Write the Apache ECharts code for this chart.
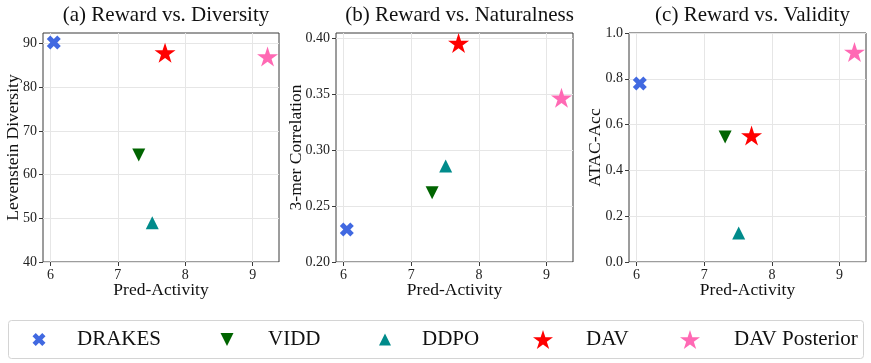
<!DOCTYPE html>
<html>
<head>
<meta charset="utf-8">
<script src="https://cdn.jsdelivr.net/npm/echarts@6/dist/echarts.min.js"></script>
<style>
  html, body { margin: 0; padding: 0; background: #fff; }
  #chart { width: 871px; height: 363px; }
</style>
</head>
<body>
<div id="chart"></div>
<script>
// data
const methods = ['DRAKES', 'VIDD', 'DDPO', 'DAV', 'DAV Posterior']
const predActivity = [6.05, 7.31, 7.51, 7.70, 9.22]
const diversity = [90.2, 64.5, 49.0, 87.9, 87.0]
const correlation = [0.229, 0.262, 0.286, 0.396, 0.347]
const atacAcc = [0.78, 0.546, 0.127, 0.552, 0.917]
const xTicks = [6, 7, 8, 9]
const yTicksA = [40, 50, 60, 70, 80, 90]
const yTicksB = [0.20, 0.25, 0.30, 0.35, 0.40]
const yTicksC = [0.0, 0.2, 0.4, 0.6, 0.8, 1.0]

const FONT = 'Liberation Serif'
const symX = 'path://M75,0 L100,25 L75,50 L100,75 L75,100 L50,75 L25,100 L0,75 L25,50 L0,25 L25,0 L50,25 Z'
const symStar = 'path://M100,0 L122.45,69.1 L195.1,69.1 L136.33,111.8 L158.78,180.9 L100,138.2 L41.22,180.9 L63.67,111.8 L4.9,69.1 L77.55,69.1 Z'
const symDown = 'path://M0,0 L100,0 L50,100 Z'
const symUp = 'path://M50,0 L100,100 L0,100 Z'

const colors = ['#4169E1', '#006400', '#008B8B', '#FF0000', '#FF69B4']
const symbols = [symX, symDown, symUp, symStar, symStar]
const sizes = [14, 13, 13, 21, 21]

const panels = [
  { title: '(a) Reward vs. Diversity', yName: 'Levenstein Diversity', values: diversity,
    ticks: yTicksA, min: 40, max: 92.4, interval: 10, digits: 0, left: 43, width: 236, nameGap: 21 },
  { title: '(b) Reward vs. Naturalness', yName: '3-mer Correlation', values: correlation,
    ticks: yTicksB, min: 0.2, max: 0.405, interval: 0.05, digits: 2, left: 336, width: 237, nameGap: 31 },
  { title: '(c) Reward vs. Validity', yName: 'ATAC-Acc', values: atacAcc,
    ticks: yTicksC, min: 0, max: 1, interval: 0.2, digits: 1, left: 629, width: 237, nameGap: 25 }
]

const gridTop = 33
const gridHeight = 229
const labelStyle = { fontFamily: FONT, fontSize: 14, color: '#222' }
const nameStyle = { fontFamily: FONT, fontSize: 17.5, color: '#111' }

const option = {
  animation: false,
  backgroundColor: '#fff',
  title: panels.map(p => ({
    text: p.title,
    left: p.left + p.width / 2,
    top: 0,
    textAlign: 'center',
    textStyle: { fontFamily: FONT, fontSize: 21, fontWeight: 'normal', color: '#111' }
  })),
  grid: panels.map(p => ({
    left: p.left, top: gridTop, width: p.width, height: gridHeight,
    show: true, borderColor: '#3a3a3a', borderWidth: 1, backgroundColor: 'transparent'
  })),
  xAxis: panels.map((p, i) => ({
    type: 'value', gridIndex: i,
    min: 5.89, max: 9.39, splitNumber: 4,
    name: 'Pred-Activity', nameLocation: 'middle', nameGap: 19, nameMoveOverlap: false,
    nameTextStyle: nameStyle,
    axisLine: { show: false },
    axisTick: { show: true, length: 4, customValues: xTicks, lineStyle: { color: '#3a3a3a' } },
    axisLabel: { ...labelStyle, margin: 6, customValues: xTicks, formatter: v => String(v) },
    splitLine: { show: true, lineStyle: { color: '#e6e6e6', width: 1 } }
  })),
  yAxis: panels.map((p, i) => ({
    type: 'value', gridIndex: i,
    min: p.min, max: p.max, interval: p.interval,
    name: p.yName, nameLocation: 'middle', nameGap: p.nameGap, nameMoveOverlap: false,
    nameTextStyle: nameStyle,
    axisLine: { show: false },
    axisTick: { show: true, length: 4, customValues: p.ticks, lineStyle: { color: '#3a3a3a' } },
    axisLabel: { ...labelStyle, margin: 6, customValues: p.ticks, formatter: v => v.toFixed(p.digits) },
    splitLine: { show: true, lineStyle: { color: '#e6e6e6', width: 1 } }
  })),
  series: [],
  legend: [],
  graphic: [{
    type: 'rect', left: 8, top: 320, z: -1,
    shape: { width: 855, height: 38, r: 3 },
    style: { fill: '#fff', stroke: '#d4d4d4', lineWidth: 1 }
  }]
}

panels.forEach((p, pi) => {
  methods.forEach((m, mi) => {
    option.series.push({
      type: 'scatter', name: m, xAxisIndex: pi, yAxisIndex: pi,
      symbol: symbols[mi], symbolSize: sizes[mi], symbolKeepAspect: true,
      itemStyle: { color: colors[mi], opacity: 1 },
      data: [[predActivity[mi], p.values[mi]]]
    })
  })
})

// one legend per entry so each marker/text sits where the figure has it
const legendMarkX = [39, 227, 385, 543, 690]
const legendTextX = [77, 268, 422, 586, 734]
const legendIconW = [13, 13, 12, 20, 20]
methods.forEach((m, i) => {
  const w = legendIconW[i]
  const left = legendMarkX[i] - w / 2
  option.legend.push({
    data: [{ name: m, icon: symbols[i] }],
    left: left, top: 329,
    itemWidth: w, itemHeight: 20, padding: 0,
    symbolKeepAspect: true,
    selectedMode: false,
    textStyle: { fontFamily: FONT, fontSize: 21, color: '#111', padding: [0, 0, 0, legendTextX[i] - (left + w + 5)] }
  })
})

const chart = echarts.init(document.getElementById('chart'))
chart.setOption(option)
window.addEventListener('resize', () => chart.resize())
</script>
</body>
</html>
